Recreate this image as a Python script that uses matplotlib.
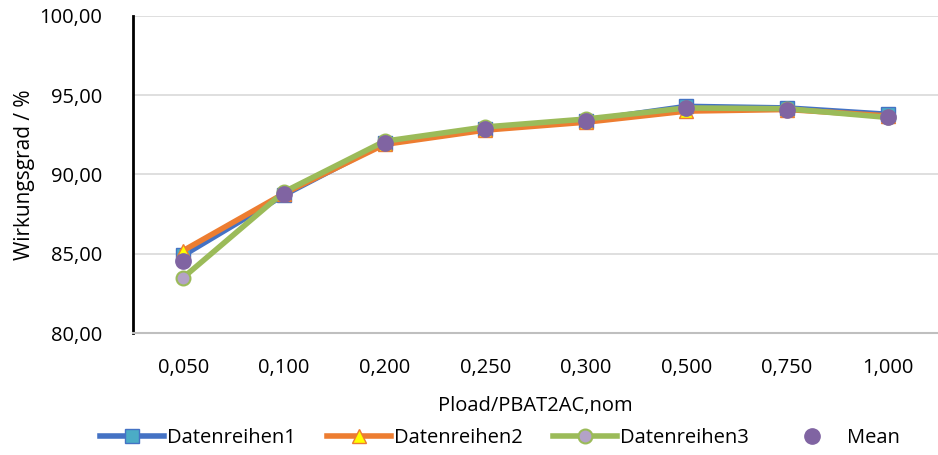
import matplotlib
matplotlib.use('Agg')
import matplotlib.pyplot as plt
from matplotlib.ticker import FuncFormatter

plt.rcParams['font.family'] = ['Open Sans', 'DejaVu Sans']

# ---- data ----
categories = ['0,050', '0,100', '0,200', '0,250', '0,300', '0,500', '0,750', '1,000']
datenreihen1 = [84.9, 88.7, 92.0, 92.9, 93.4, 94.3, 94.2, 93.8]
datenreihen2 = [85.2, 88.8, 91.9, 92.8, 93.3, 94.0, 94.1, 93.7]
datenreihen3 = [83.5, 88.9, 92.1, 93.0, 93.5, 94.2, 94.15, 93.6]
mean_vals = [84.55, 88.75, 92.0, 92.9, 93.4, 94.2, 94.1, 93.65]
y_ticks = [80, 85, 90, 95, 100]

x = list(range(len(categories)))

fig = plt.figure(figsize=(9.38, 4.55), dpi=100)
ax = fig.add_axes([133 / 938, 1 - 333 / 455, (938 - 133) / 938, (333 - 16) / 455])

ax.plot(x, datenreihen1, color='#4472C4', lw=4, marker='s', ms=10.5,
        mfc='#4BACC6', mec='#4472C4', mew=1, label='Datenreihen1', zorder=3)
ax.plot(x, datenreihen2, color='#ED7D31', lw=4, marker='^', ms=10,
        mfc='#FFFF00', mec='#ED7D31', mew=1, label='Datenreihen2', zorder=4)
ax.plot(x, datenreihen3, color='#9BBB59', lw=4, marker='o', ms=10,
        mfc='#B3A2C7', mec='#9BBB59', mew=1.5, label='Datenreihen3', zorder=5)
ax.plot(x, mean_vals, ls='none', marker='o', ms=11, color='#8064A2',
        label='Mean', zorder=6)

ax.set_xlim(-0.5, len(categories) - 0.5)
ax.set_ylim(80, 100)
ax.set_xticks(x)
ax.set_xticklabels(categories)
ax.set_yticks(y_ticks)
ax.yaxis.set_major_formatter(FuncFormatter(lambda v, p: f'{v:.2f}'.replace('.', ',')))
ax.tick_params(length=0, labelsize=14.5, colors='#000000')
ax.tick_params(axis='x', pad=18)
ax.tick_params(axis='y', pad=22)

ax.grid(axis='y', color='#D9D9D9', lw=1.2)
ax.set_axisbelow(True)
for s in ['top', 'right']:
    ax.spines[s].set_visible(False)
ax.spines['left'].set_color('black')
ax.spines['left'].set_linewidth(2)
ax.spines['bottom'].set_color('#BFBFBF')
ax.spines['bottom'].set_linewidth(1.5)

ax.set_ylabel('Wirkungsgrad / %', fontsize=15, labelpad=3)
ax.set_xlabel('Pload/PBAT2AC,nom', fontsize=14.5, labelpad=13)

fig.legend(loc='lower center', ncol=4, frameon=False, fontsize=14.5,
           bbox_to_anchor=(0.533, -0.025), columnspacing=1.5, handlelength=3.2,
           handletextpad=0.15)

fig.savefig('out.png', dpi=100)
